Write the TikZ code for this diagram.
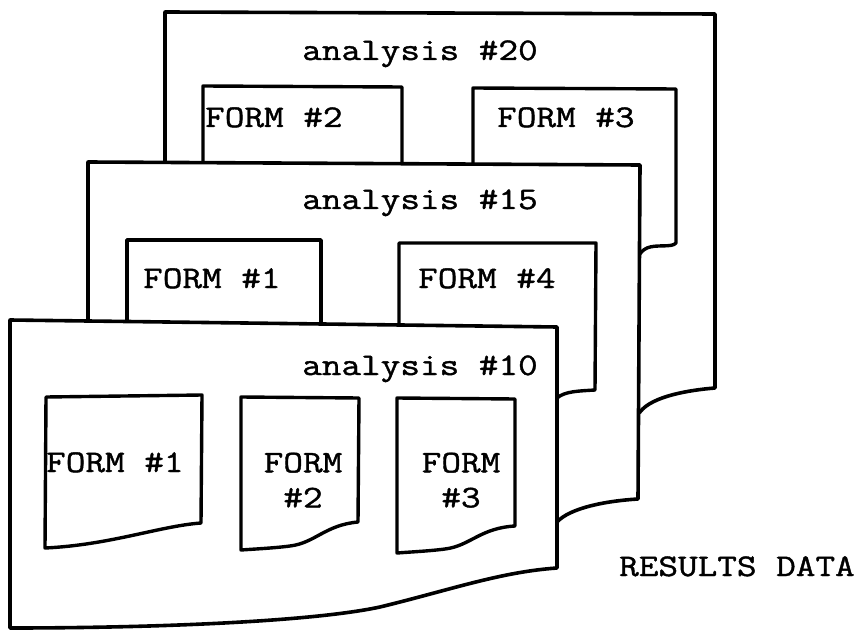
\documentclass[tikz,border=0pt]{standalone}
\usepackage{fontspec}
\newfontfamily\tw{Latin Modern Mono}[FakeStretch=1.21,FakeBold=1.3]
\begin{document}
\begin{tikzpicture}[x=1pt,y=-1pt,
  panel/.style={draw=black, fill=white, line width=3.6pt, line join=round},
  formbox/.style={draw=black, line width=3.4pt, line join=round},
  lbl/.style={font={\tw\fontsize{31.5}{35}\selectfont}, inner sep=0pt, anchor=base west},
  lblc/.style={font={\tw\fontsize{31.5}{35}\selectfont}, inner sep=0pt, anchor=north, align=center}]
\useasboundingbox (0,0) rectangle (862,631);
\fill[white] (0,0) rectangle (862,631);

% ---------- analysis #20 (back) ----------
\draw[panel] (165,12) -- (715,14) -- (715,388)
  .. controls (690,390) and (652,396) .. (640,412) -- (600,440) -- (165,440) -- cycle;
\draw[formbox] (203,86) -- (402,87) -- (402,200) -- (203,200) -- cycle;
\draw[formbox] (473,88) -- (676,89) -- (676,243)
  .. controls (672,248) and (656,244) .. (647,248)
  .. controls (643,250) and (641,252) .. (639,255) -- (600,280) -- (473,280) -- cycle;
\node[lbl] (a20) at (302,60) {analysis \#20};
\node[lbl] (a20f2) at (205,127) {FORM \#2};
\node[lbl] (a20f3) at (497,127) {FORM \#3};

% ---------- analysis #15 (middle) ----------
\draw[panel] (88,162) -- (640,165) -- (638,499)
  .. controls (605,501) and (570,508) .. (557,522) -- (400,560) -- (88,560) -- cycle;
\draw[formbox] (127,240) -- (321,240) -- (321,360) -- (127,360) -- cycle;
\draw[formbox] (399,243) -- (596,243) -- (595,390)
  .. controls (580,391) and (565,391) .. (557,398) -- (540,420) -- (399,420) -- cycle;
\node[lbl] (a15) at (302,209) {analysis \#15};
\node[lbl] (a15f1) at (143,288) {FORM \#1};
\node[lbl] (a15f4) at (418,288) {FORM \#4};

% ---------- analysis #10 (front) ----------
\draw[panel] (10,320) -- (557,327) -- (557,568)
  .. controls (500,572) and (450,590) .. (380,607)
  .. controls (310,622) and (150,628) .. (10,628) -- cycle;
\draw[formbox] (46,397) -- (202,395) -- (201,523)
  .. controls (160,526) and (110,545) .. (45,548) -- cycle;
\draw[formbox] (241,397) -- (359,398) -- (358,522)
  .. controls (325,525) and (315,543) .. (290,546)
  .. controls (275,548) and (255,549) .. (241,550) -- cycle;
\draw[formbox] (397,398) -- (515,399) -- (515,526)
  .. controls (480,528) and (470,546) .. (445,549)
  .. controls (430,551) and (410,552) .. (397,553) -- cycle;
\node[lbl] (a10) at (302,375) {analysis \#10};
\node[lbl] (a10f1) at (46,472) {FORM \#1};
\node[lblc] (a10f2) at (303,452.5) {FORM\\\#2};
\node[lblc] (a10f3) at (461,452.5) {FORM\\\#3};

% ---------- caption ----------
\node[lbl] (res) at (619,576) {RESULTS DATA};
\end{tikzpicture}
\end{document}
